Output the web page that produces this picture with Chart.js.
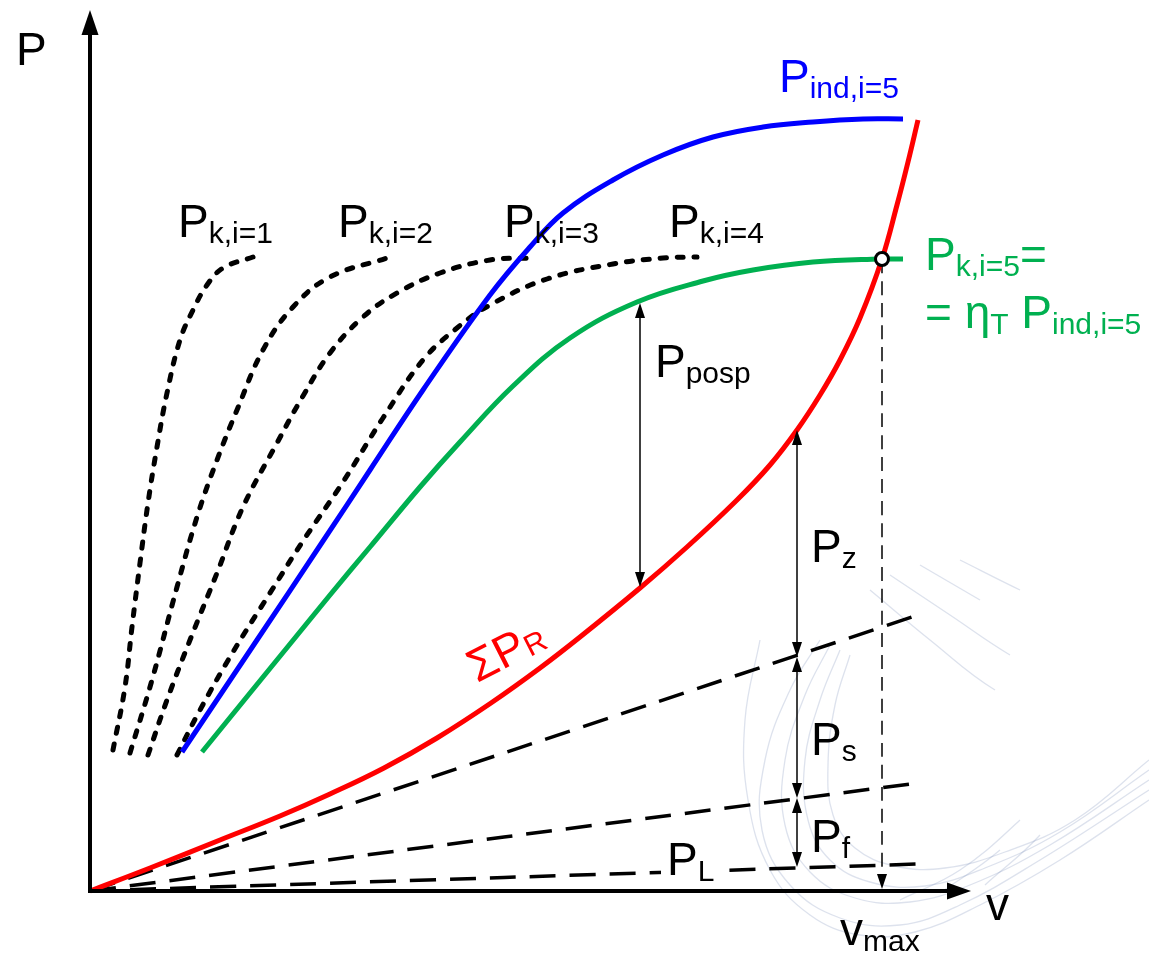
<!DOCTYPE html>
<html>
<head>
<meta charset="utf-8">
<script src="https://cdn.jsdelivr.net/npm/chart.js@4.4.0/dist/chart.umd.min.js"></script>
<style>
    html, body { margin: 0; padding: 0; background: #fff; }
    canvas { display: block; }
</style>
</head>
<body>
<canvas id="powerChart" width="1149" height="954"></canvas>
<script>
// values (v and P in arbitrary units)
const resistV = [0, 6, 13, 19, 24, 29.4, 34.7, 40.1, 45, 49, 55, 59.7, 64.7, 68, 70.7, 73, 75, 77, 79.2, 80.7, 81.8, 82.8];
const resistP = [0, 2.3, 5.1, 7.5, 9.7, 12.3, 15.3, 18.8, 22.3, 25.4, 30.3, 34.4, 39.1, 42.6, 46.1, 49.6, 53.1, 57.3, 63.2, 68.6, 72.9, 77.1];

const indV = [9.2, 16.7, 23.3, 28, 33.3, 40, 44, 47.3, 52.3, 57.3, 62.3, 67.3, 72.3, 77.3, 81.3];
const indP = [13.9, 25.1, 35, 42.1, 50.1, 59.6, 64.4, 67.8, 71.1, 73.6, 75.4, 76.4, 76.9, 77.2, 77.2];

const k5V = [11.2, 16, 20, 24, 28, 33, 37, 42.3, 48, 54.7, 61.3, 66.3, 72.3, 79, 81.3];
const k5P = [13.9, 19.8, 24.7, 29.6, 34.4, 40.4, 44.9, 50.5, 55.3, 58.9, 61, 62.1, 62.9, 63.2, 63.2];

const k1V = [2.3, 3.5, 4.2, 5, 5.8, 6.7, 7.7, 9, 10.3, 11.7, 13.3, 16.3];
const k1P = [14.1, 20.4, 26.4, 32.8, 38.8, 44.4, 49.8, 55.1, 58.1, 60.6, 62.3, 63.4];
const k2V = [4, 6.2, 8.7, 10.7, 12.7, 14.7, 17.3, 20.3, 24, 29.7];
const k2P = [13.8, 21.1, 30.4, 37.4, 43.1, 48.1, 54.1, 58.4, 61.4, 63.3];
const k3V = [5.8, 7.7, 10, 12.7, 15.3, 18.7, 21.3, 24, 27.3, 30.7, 35, 40, 44];
const k3P = [13.6, 19.1, 25.1, 31.8, 38.4, 44.8, 49.5, 53.8, 57.4, 59.8, 61.8, 63.1, 63.3];
const k4V = [8.7, 11, 14.3, 18, 21.3, 25.3, 29.3, 33.3, 36.7, 40, 45.7, 52.3, 57.3, 60.7];
const k4P = [13.6, 18.1, 23.9, 29.8, 35, 40.9, 47.3, 53.1, 56.3, 58.6, 61.2, 62.7, 63.3, 63.4];

// straight resistance components
const partV = [0, 82.8];
const airP = [0, 2.7];
const rollP = [0, 10.8];
const slopeP = [0, 27.6];

const vMax = 79.2;
const pAtVmax = 63.2;

// double arrows: [v, upper P, lower P]
const dims = [
    [55, 58.8, 30.4],
    [70.7, 46.1, 23.4],
    [70.7, 23.4, 9.3],
    [70.7, 9.3, 2.4]
];

// faint background arcs (scan watermark), [v, P] pairs
const bgArcs = [
    [[73, 25.1], [70, 20.1], [67.5, 13.1], [67.2, 6.1], [70, 0.6], [75, -2.7], [81, -3.4], [87, -1.4], [95, 3.1], [105.9, 10.1]],
    [[74, 24.6], [71.5, 19.6], [69.5, 13.1], [69.5, 6.6], [72, 1.9], [76.5, -0.7], [82, -1.1], [88, 0.6], [96, 4.6], [105.9, 11.1]],
    [[75, 24.1], [73, 19.1], [71.5, 13.1], [71.8, 7.1], [74, 3.1], [78, 0.9], [83.5, 0.5], [89.5, 2.3], [97, 5.9], [105.9, 12.1]],
    [[76, 23.6], [74.5, 18.6], [73.8, 12.6], [74.3, 7.6], [76.5, 4.3], [80.5, 2.5], [85.5, 2.3], [91.5, 3.9], [98.5, 7.1], [105.9, 13.1]],
    [[67, 25.1], [65.5, 17.1], [65.8, 9.1], [68, 2.1], [72, -2.4], [77, -4.4], [82.5, -4.1], [89, -1.4], [97, 3.1], [105.9, 9.1]],
    [[80, 31.6], [86, 27.6], [92, 23.6], [98.5, 20.1], [105.9, 17.9]],
    [[83, 32.6], [89, 29.1], [95, 25.6], [101, 22.9], [105.9, 21.6]],
    [[87, 33.1], [93, 30.1], [99, 27.3], [105.9, 25.1]],
    [[78, 30.1], [84, 25.1], [90.5, 20.1], [98, 16.6], [105.9, 14.6]],
    [[85, -0.2], [91, 4.1], [97, 10.1], [102, 17.1], [105.9, 23.1]],
    [[89.5, 0.6], [95, 5.6], [100, 12.1], [105.9, 20.1]],
    [[81, -0.9], [87, 2.1], [93, 7.1], [99, 13.1], [105.9, 19.1]]
];

const FONT = '"Liberation Sans", Arial, sans-serif';
const MAIN = 46;
const SUB = 30;

const labels = [
    { at: [-7.4, 82.6], parts: [["P"]], color: "#000" },
    { at: [89.6, -2.9], parts: [["v"]], color: "#000" },
    { at: [75, -5.4], parts: [["v"], ["max", 1]], color: "#000" },
    { at: [8.8, 65.4], parts: [["P"], ["k,i=1", 1]], color: "#000" },
    { at: [24.8, 65.4], parts: [["P"], ["k,i=2", 1]], color: "#000" },
    { at: [41.4, 65.4], parts: [["P"], ["k,i=3", 1]], color: "#000" },
    { at: [57.9, 65.4], parts: [["P"], ["k,i=4", 1]], color: "#000" },
    { at: [68.9, 79.9], parts: [["P"], ["ind,i=5", 1]], color: "#0000ff" },
    { at: [83.5, 62.1], parts: [["P"], ["k,i=5", 1], ["="]], color: "#00b050" },
    { at: [83.5, 56.3], parts: [["= η"], ["T", 1], [" P"], ["ind,i=5", 1]], color: "#00b050" },
    { at: [56.5, 51.4], parts: [["P"], ["posp", 1]], color: "#000" },
    { at: [72.1, 32.9], parts: [["P"], ["z", 1]], color: "#000" },
    { at: [72.1, 13.6], parts: [["P"], ["s", 1]], color: "#000" },
    { at: [72.1, 3.9], parts: [["P"], ["f", 1]], color: "#000" },
    { at: [57.7, 1.6], parts: [["P"], ["L", 1]], color: "#000", clear: true },
    { at: [38.7, 20.8], parts: [["ΣP"], ["R", 1]], color: "#ff0000", angle: -27, size: 46, subDy: 1 }
];

function pts(xs, ys) {
    return xs.map((x, i) => ({ x: x, y: ys[i] }));
}

function curve(data, color, width, dash, cap) {
    return {
        data: data,
        showLine: true,
        borderColor: color,
        borderWidth: width,
        borderDash: dash || [],
        borderCapStyle: cap || "butt",
        pointRadius: 0,
        fill: false,
        clip: false,
        tension: 0.4
    };
}

function head(ctx, tx, ty, dx, dy, len, half) {
    ctx.beginPath();
    ctx.moveTo(tx, ty);
    ctx.lineTo(tx - dx * len - dy * half, ty - dy * len + dx * half);
    ctx.lineTo(tx - dx * len + dy * half, ty - dy * len - dx * half);
    ctx.closePath();
    ctx.fill();
}

function drawParts(ctx, x, y, lab) {
    const size = lab.size || MAIN;
    const subDy = lab.subDy !== undefined ? lab.subDy : 6;
    let cx = x;
    ctx.fillStyle = lab.color;
    lab.parts.forEach(p => {
        const sub = p[1];
        ctx.font = (sub ? SUB : size) + "px " + FONT;
        ctx.fillText(p[0], cx, y + (sub ? subDy : 0));
        cx += ctx.measureText(p[0]).width;
    });
    return cx;
}

const overlay = {
    id: "overlay",
    afterDatasetsDraw(chart) {
        const { ctx, scales: { x, y } } = chart;
        const px = v => x.getPixelForValue(v);
        const py = p => y.getPixelForValue(p);
        ctx.save();
        ctx.fillStyle = "#000";
        ctx.strokeStyle = "#000";

        // axes with arrows
        const ox = px(0), oy = py(0);
        const xTip = px(88.1), yTip = py(88.1);
        ctx.lineWidth = 4;
        ctx.beginPath();
        ctx.moveTo(ox, oy + 2);
        ctx.lineTo(ox, yTip + 20);
        ctx.moveTo(ox - 2, oy);
        ctx.lineTo(xTip - 20, oy);
        ctx.stroke();
        head(ctx, ox, yTip, 0, -1, 25, 8.5);
        head(ctx, xTip, oy, 1, 0, 24, 8.5);

        // v_max marker arrow
        head(ctx, px(vMax), oy - 2, 0, 1, 15, 5);

        // dimension arrows
        ctx.lineWidth = 1.5;
        dims.forEach(d => {
            const ax = px(d[0]), y1 = py(d[1]), y2 = py(d[2]);
            ctx.beginPath();
            ctx.moveTo(ax, y1 + 10);
            ctx.lineTo(ax, y2 - 10);
            ctx.stroke();
            head(ctx, ax, y1, 0, -1, 15, 5);
            head(ctx, ax, y2, 0, 1, 15, 5);
        });

        // text
        ctx.textBaseline = "alphabetic";
        labels.forEach(lab => {
            const lx = px(lab.at[0]), ly = py(lab.at[1]);
            ctx.save();
            ctx.translate(lx, ly);
            if (lab.angle) ctx.rotate(lab.angle * Math.PI / 180);
            if (lab.clear) {
                ctx.fillStyle = "#fff";
                ctx.fillRect(-6, -36, 62, 44);
            }
            drawParts(ctx, 0, 0, lab);
            ctx.restore();
        });
        ctx.restore();
    }
};

const bgSets = bgArcs.map(arc => curve(arc.map(p => ({ x: p[0], y: p[1] })), "rgba(120, 140, 185, 0.25)", 1.3));

new Chart(document.getElementById("powerChart"), {
    type: "scatter",
    data: {
        datasets: [
            {
                data: [{ x: vMax, y: pAtVmax }],
                pointRadius: 6.5,
                pointBackgroundColor: "#fff",
                pointBorderColor: "#000",
                pointBorderWidth: 3,
                showLine: false,
                clip: false
            },
            curve(pts(resistV, resistP), "#ff0000", 5),
            curve(pts(k5V, k5P), "#00b050", 5),
            curve(pts(indV, indP), "#0000ff", 5),
            curve(pts(k1V, k1P), "#000", 5, [6, 11], "round"),
            curve(pts(k2V, k2P), "#000", 5, [6, 11], "round"),
            curve(pts(k3V, k3P), "#000", 5, [6, 11], "round"),
            curve(pts(k4V, k4P), "#000", 5, [6, 11], "round"),
            curve(pts(partV, slopeP), "#000", 3.5, [26, 14]),
            curve(pts(partV, rollP), "#000", 3.5, [26, 14]),
            curve(pts(partV, airP), "#000", 3.5, [26, 14]),
            curve([{ x: vMax, y: pAtVmax }, { x: vMax, y: 1.5 }], "#000", 1.5, [14, 8])
        ].concat(bgSets)
    },
    options: {
        responsive: false,
        animation: false,
        layout: { padding: { left: 90, right: 179, top: 11, bottom: 63 } },
        plugins: {
            legend: { display: false },
            tooltip: { enabled: false }
        },
        scales: {
            x: { type: "linear", min: 0, max: 88, display: false },
            y: { type: "linear", min: 0, max: 88, display: false }
        }
    },
    plugins: [overlay]
});
</script>
</body>
</html>
